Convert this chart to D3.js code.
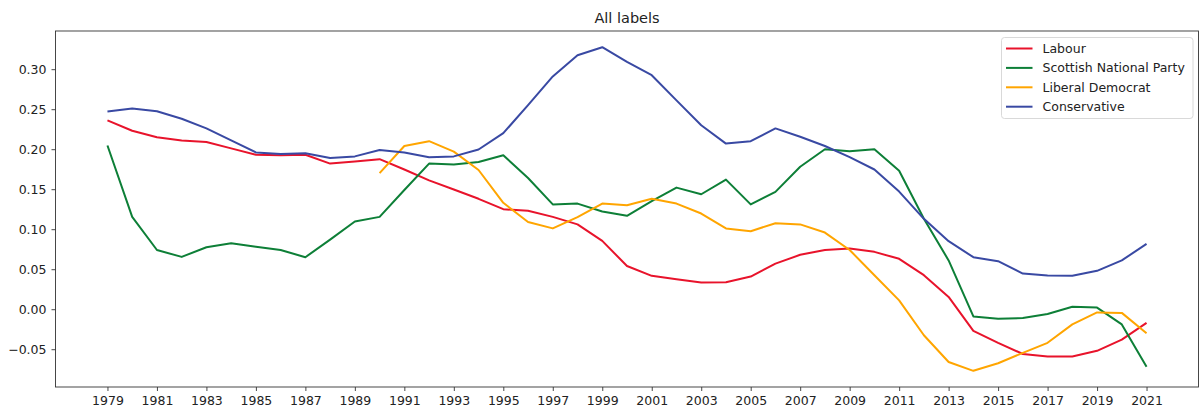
<!DOCTYPE html>
<html>
<head>
<meta charset="utf-8">
<script src="https://cdn.jsdelivr.net/npm/d3@7"></script>
<style>
  html, body { margin: 0; padding: 0; background: #fff; }
  svg { display: block; }
  text { font-family: "DejaVu Sans", sans-serif; fill: #222; }
</style>
</head>
<body>
<svg id="chart" width="1200" height="412"></svg>
<script>
const years = d3.range(1979, 2022);
const labour = [0.236, 0.223, 0.215, 0.211, 0.209, 0.201, 0.193, 0.1925, 0.193, 0.182, 0.1846, 0.1875,
  0.1746, 0.161, 0.1496, 0.138, 0.125, 0.123, 0.1154, 0.106, 0.0854, 0.054, 0.0417, 0.0375, 0.0333, 0.0338,
  0.0408, 0.057, 0.068, 0.074, 0.076, 0.0717, 0.063, 0.0425, 0.0154, -0.027, -0.042, -0.056, -0.059, -0.059,
  -0.052, -0.038, -0.017];
const snp = [0.2046, 0.1154, 0.074, 0.0654, 0.0775, 0.0825, 0.078, 0.074, 0.065, 0.087, 0.1096, 0.1154,
  0.149, 0.182, 0.181, 0.184, 0.1925, 0.164, 0.131, 0.132, 0.1222, 0.1167, 0.135, 0.152, 0.1437, 0.162,
  0.131, 0.1467, 0.178, 0.200, 0.1975, 0.200, 0.173, 0.113, 0.061, -0.009, -0.012, -0.011, -0.006, 0.003,
  0.002, -0.019, -0.072];
const libdem = [null, null, null, null, null, null, null, null, null, null, null, 0.170,
  0.204, 0.210, 0.197, 0.174, 0.133, 0.109, 0.101, 0.115, 0.132, 0.130, 0.138, 0.132, 0.1196, 0.101,
  0.0975, 0.1075, 0.106, 0.0958, 0.074, 0.0425, 0.011, -0.0325, -0.066, -0.077, -0.0675, -0.0546, -0.042, -0.019,
  -0.004, -0.0046, -0.030];
const conservative = [0.247, 0.251, 0.2475, 0.238, 0.226, 0.211, 0.196, 0.194, 0.195, 0.189, 0.191, 0.199,
  0.196, 0.190, 0.191, 0.1996, 0.220, 0.255, 0.291, 0.3175, 0.3275, 0.309, 0.2925, 0.261, 0.230, 0.207,
  0.210, 0.226, 0.2155, 0.204, 0.190, 0.1746, 0.147, 0.113, 0.085, 0.065, 0.060, 0.0446, 0.042, 0.0417,
  0.048, 0.061, 0.0817];
const seriesNames = ["Labour", "Scottish National Party", "Liberal Democrat", "Conservative"];
const seriesColors = ["#e8132b", "#0d7f37", "#ffa500", "#3949a3"];
const xTicks = d3.range(1979, 2022, 2);
const yTicks = [-0.05, 0.00, 0.05, 0.10, 0.15, 0.20, 0.25, 0.30];
const title = "All labels";

const seriesValues = [labour, snp, libdem, conservative];

const svg = d3.select("#chart");
const mLeft = 55.5, mRight = 1198.5, mTop = 31, mBottom = 387;

const x = d3.scaleLinear().domain([1979 - 2.1, 2021 + 2.1]).range([mLeft, mRight]);
const allVals = seriesValues.flat().filter(v => v != null);
const yMin = d3.min(allVals), yMax = d3.max(allVals);
const pad = (yMax - yMin) * 0.05;
const y = d3.scaleLinear().domain([yMin - pad, yMax + pad]).range([mBottom, mTop]);

const xAxis = d3.axisBottom(x).tickValues(xTicks).tickFormat(d3.format("d")).tickSize(4).tickPadding(5);
const yAxis = d3.axisLeft(y).tickValues(yTicks).tickFormat(d => d3.format(".2f")(d).replace("-", "\u2212")).tickSize(4).tickPadding(5);

const gx = svg.append("g").attr("transform", `translate(0,${mBottom})`).call(xAxis);
const gy = svg.append("g").attr("transform", `translate(${mLeft},0)`).call(yAxis);
[gx, gy].forEach(g => {
  g.select(".domain").remove();
  g.selectAll(".tick line").attr("stroke", "#333").attr("stroke-width", 0.9);
  g.selectAll(".tick text").attr("font-size", "12.5px").attr("font-family", "DejaVu Sans, sans-serif").attr("fill", "#222");
});

const line = d3.line()
  .defined(d => d.v != null)
  .x(d => x(d.year))
  .y(d => y(d.v));

seriesValues.forEach((vals, i) => {
  const data = years.map((yr, j) => ({ year: yr, v: vals[j] }));
  svg.append("path")
    .datum(data)
    .attr("fill", "none")
    .attr("stroke", seriesColors[i])
    .attr("stroke-width", 2)
    .attr("stroke-linejoin", "round")
    .attr("d", line);
});

svg.append("rect")
  .attr("x", mLeft).attr("y", mTop)
  .attr("width", mRight - mLeft).attr("height", mBottom - mTop)
  .attr("fill", "none").attr("stroke", "#333").attr("stroke-width", 0.9);

svg.append("text")
  .attr("x", (mLeft + mRight) / 2).attr("y", 23)
  .attr("text-anchor", "middle")
  .attr("font-size", "14.5px")
  .text(title);

const lg = svg.append("g");
lg.append("rect")
  .attr("x", 1001.5).attr("y", 37.5).attr("width", 191.5).attr("height", 81)
  .attr("rx", 3).attr("fill", "#fff").attr("fill-opacity", 0.8)
  .attr("stroke", "#d9d9d9").attr("stroke-width", 1);
seriesNames.forEach((name, i) => {
  const cy = 48.5 + i * 19.4;
  lg.append("line")
    .attr("x1", 1006).attr("x2", 1032.5)
    .attr("y1", cy).attr("y2", cy)
    .attr("stroke", seriesColors[i]).attr("stroke-width", 2);
  lg.append("text")
    .attr("x", 1042.5).attr("y", cy + 4.5)
    .attr("font-size", "12.5px")
    .text(name);
});
</script>
</body>
</html>
